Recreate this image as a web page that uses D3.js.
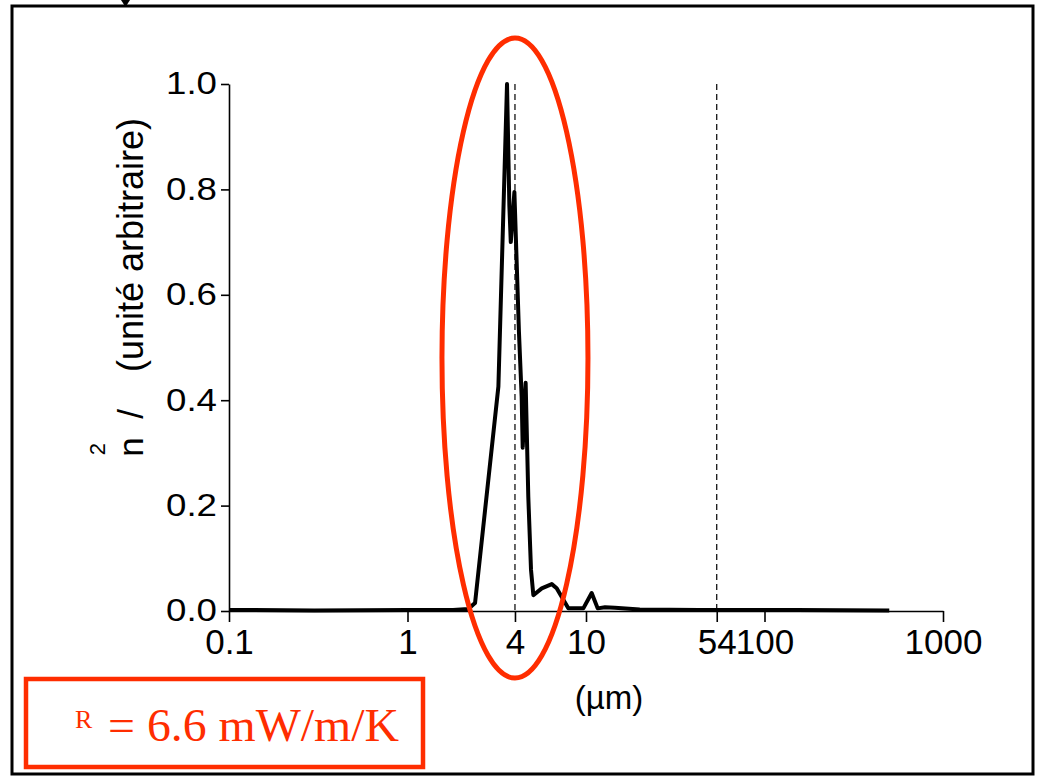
<!DOCTYPE html>
<html>
<head>
<meta charset="utf-8">
<script src="https://cdn.jsdelivr.net/npm/d3@7"></script>
<style>
  body { margin: 0; background: #fff; }
  svg { display: block; }
  .axis text { font-family: "Liberation Sans", Arial, Helvetica, sans-serif; fill: #000; }
  .axis path, .axis line { stroke: #000; stroke-width: 1.6; }
</style>
</head>
<body>
<svg width="1040" height="780"></svg>
<script>
// taille des pores (µm) et distribution (unité arbitraire)
var sizes = [0.1, 0.3, 1, 1.8, 2.19, 2.39, 3.23, 3.61, 3.72, 3.79, 3.97, 4.21, 4.36, 4.42, 4.59, 4.75, 4.92, 5.07,
             5.65, 6.43, 6.85, 7.96, 9.66, 10.76, 11.63, 12.78, 14.5, 20, 43, 150, 500];
var values = [0.002, 0.001, 0.002, 0.002, 0.004, 0.015, 0.426, 1.0, 0.77, 0.70, 0.795, 0.53, 0.407, 0.31, 0.433, 0.217, 0.078, 0.030,
              0.043, 0.051, 0.043, 0.005, 0.005, 0.034, 0.005, 0.007, 0.006, 0.003, 0.002, 0.002, 0.001];
var xTicks = [0.1, 1, 4, 10, 54, 100, 1000];
var yTicks = [0, 0.2, 0.4, 0.6, 0.8, 1.0];
var markers = [4, 54];   // lignes pointillées

var svg = d3.select("svg"),
    width = +svg.attr("width"),
    height = +svg.attr("height");

var red = "#ff2d00";

var x = d3.scaleLog().domain([0.1, 1000]).range([229, 943]);
var y = d3.scaleLinear().domain([0, 1]).range([611, 84]);

// cadre
svg.append("rect")
    .attr("x", 12).attr("y", 6)
    .attr("width", 1021).attr("height", 768)
    .attr("fill", "none")
    .attr("stroke", "#000")
    .attr("stroke-width", 3);
// petit triangle en haut
svg.append("path")
    .attr("d", "M121,0 L130,0 L125.5,7 Z")
    .attr("fill", "#000");

// lignes pointillées
svg.append("g").selectAll("line")
    .data(markers)
    .enter().append("line")
    .attr("x1", function (d) { return x(d); })
    .attr("x2", function (d) { return x(d); })
    .attr("y1", y(1))
    .attr("y2", y(0))
    .attr("stroke", "#000")
    .attr("stroke-width", 1.2)
    .attr("stroke-dasharray", "6,4");

// axes
var gx = svg.append("g")
    .attr("class", "axis")
    .attr("transform", "translate(0," + y(0) + ")")
    .call(d3.axisBottom(x)
        .tickValues(xTicks)
        .tickFormat(function (d) { return d; })
        .tickSize(11)
        .tickSizeOuter(0)
        .tickPadding(7));
gx.selectAll("text").attr("font-size", 35);

var gy = svg.append("g")
    .attr("class", "axis")
    .attr("transform", "translate(" + x(0.1) + ",0)")
    .call(d3.axisLeft(y)
        .tickValues(yTicks)
        .tickFormat(d3.format(".1f"))
        .tickSize(8)
        .tickSizeOuter(0)
        .tickPadding(4));
// les chiffres de l'original sont plus larges qu'Arial
gy.selectAll("text")
    .attr("font-size", 31)
    .attr("textLength", 51)
    .attr("lengthAdjust", "spacingAndGlyphs");

// courbe
var line = d3.line()
    .x(function (d, i) { return x(sizes[i]); })
    .y(function (d) { return y(d); });

svg.append("path")
    .datum(values)
    .attr("d", line)
    .attr("fill", "none")
    .attr("stroke", "#000")
    .attr("stroke-width", 4)
    .attr("stroke-linejoin", "round");

// titres des axes
var sans = "'Liberation Sans', Arial, Helvetica, sans-serif";
svg.append("text")
    .attr("x", 609).attr("y", 709)
    .attr("text-anchor", "middle")
    .attr("font-family", sans)
    .attr("font-size", 33)
    .text("(µm)");

var ylab = [
    { t: "(unité arbitraire)", yy: 245, bx: 143, fs: 36 },
    { t: "/", yy: 414, bx: 143, fs: 35 },
    { t: "n", yy: 447, bx: 143, fs: 35 },
    { t: "2", yy: 449, bx: 105, fs: 22 }
];
svg.append("g").selectAll("text")
    .data(ylab)
    .enter().append("text")
    .attr("transform", function (d) { return "translate(" + d.bx + "," + d.yy + ") rotate(-90)"; })
    .attr("text-anchor", "middle")
    .attr("font-family", sans)
    .attr("font-size", function (d) { return d.fs; })
    .text(function (d) { return d.t; });

// ellipse rouge
svg.append("ellipse")
    .attr("cx", x(4))
    .attr("cy", y(0.48))
    .attr("rx", 73)
    .attr("ry", 320)
    .attr("fill", "none")
    .attr("stroke", red)
    .attr("stroke-width", 5);

// encadré rouge
svg.append("rect")
    .attr("x", 26).attr("y", 679)
    .attr("width", 397).attr("height", 88)
    .attr("fill", "none")
    .attr("stroke", red)
    .attr("stroke-width", 4.5);

var serif = "'Liberation Serif', 'Times New Roman', serif";
svg.append("text")
    .attr("x", 75).attr("y", 728)
    .attr("font-family", serif)
    .attr("font-size", 26)
    .attr("fill", red)
    .text("R");
svg.append("text")
    .attr("x", 108).attr("y", 741)
    .attr("font-family", serif)
    .attr("font-size", 46)
    .attr("textLength", 291)
    .attr("lengthAdjust", "spacingAndGlyphs")
    .attr("fill", red)
    .text("= 6.6 mW/m/K");
</script>
</body>
</html>
